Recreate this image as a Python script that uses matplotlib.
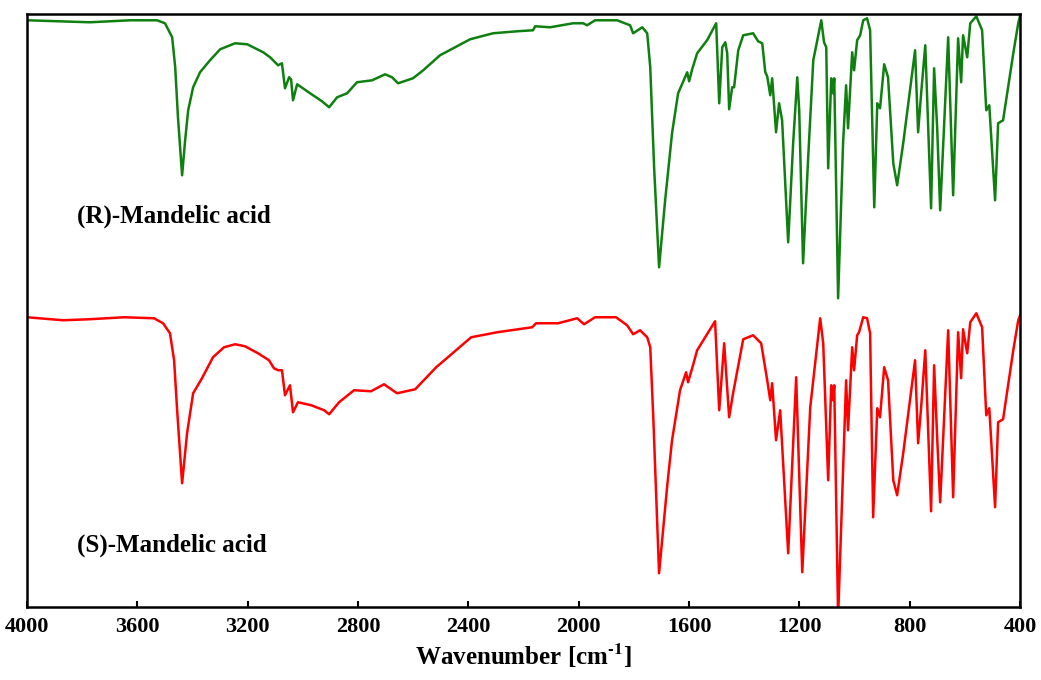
import matplotlib.pyplot as plt

plt.rcParams['font.family'] = ['Liberation Serif', 'DejaVu Serif']
plt.rcParams['font.weight'] = 'bold'
plt.rcParams['mathtext.fontset'] = 'stix'

# (R)-Mandelic acid, upper trace (wavenumber cm-1, transmittance a.u.)
wn_r = [4000, 3880, 3772, 3699, 3627, 3529, 3500, 3474, 3463, 3453, 3438, 3427, 3416, 3398, 3373,
        3337, 3300, 3246, 3202, 3144, 3119, 3090, 3076, 3065, 3050, 3043, 3036, 3021, 2974, 2931,
        2905, 2876, 2840, 2804, 2749, 2702, 2677, 2655, 2601, 2564, 2503, 2394, 2311, 2224, 2166,
        2158, 2104, 2021, 1984, 1970, 1941, 1861, 1814, 1803, 1770, 1752, 1741, 1727, 1709, 1687,
        1662, 1640, 1607, 1600, 1589, 1571, 1535, 1502, 1491, 1480, 1469, 1462, 1455, 1444, 1437,
        1422, 1404, 1386, 1368, 1350, 1335, 1324, 1317, 1306, 1299, 1285, 1274, 1263, 1241, 1223,
        1208, 1201, 1187, 1169, 1150, 1121, 1111, 1103, 1096, 1085, 1078, 1074, 1060, 1042, 1031,
        1024, 1009, 1002, 991, 980, 969, 955, 944, 929, 918, 908, 893, 879, 860, 846,
        824, 781, 770, 759, 744, 723, 712, 701, 690, 661, 643, 625, 614, 607, 592,
        581, 559, 538, 523, 512, 491, 480, 462, 425, 407, 400]
t_r = [587, 586, 585, 586, 587, 587, 584, 570, 540, 490, 432, 467, 497, 520, 535,
       547, 558, 564, 563, 555, 550, 542, 544, 519, 530, 528, 507, 523, 514, 506,
       500, 510, 514, 525, 527, 533, 530, 524, 529, 537, 552, 568, 574, 576, 577,
       581, 580, 584, 584, 582, 587, 587, 582, 574, 580, 574, 540, 440, 340, 407,
       474, 514, 535, 526, 538, 554, 567, 584, 504, 560, 565, 554, 498, 520, 520,
       557, 572, 573, 574, 566, 564, 535, 531, 512, 529, 475, 504, 487, 365, 464,
       530, 497, 344, 447, 547, 587, 565, 560, 439, 529, 514, 529, 309, 464, 522,
       479, 555, 537, 567, 572, 587, 589, 577, 400, 504, 499, 543, 530, 444, 422,
       464, 557, 475, 514, 562, 399, 539, 480, 397, 570, 412, 569, 525, 572, 550,
       584, 591, 577, 497, 502, 407, 484, 487, 554, 584, 592]

# (S)-Mandelic acid, lower trace
wn_s = [4000, 3869, 3775, 3648, 3540, 3507, 3482, 3467, 3456, 3438, 3420, 3398, 3366, 3326, 3286,
        3246, 3210, 3163, 3123, 3105, 3090, 3076, 3065, 3047, 3036, 3018, 2970, 2923, 2905, 2869,
        2815, 2753, 2706, 2659, 2593, 2517, 2390, 2296, 2169, 2155, 2075, 2006, 1981, 1941, 1865,
        1825, 1803, 1778, 1752, 1741, 1730, 1709, 1680, 1662, 1633, 1611, 1604, 1589, 1571, 1506,
        1491, 1473, 1455, 1440, 1404, 1368, 1339, 1317, 1306, 1299, 1285, 1270, 1241, 1212, 1190,
        1161, 1125, 1114, 1096, 1085, 1078, 1074, 1060, 1031, 1024, 1009, 1002, 991, 984, 969,
        955, 944, 933, 918, 908, 893, 879, 860, 846, 824, 781, 770, 759, 744, 723,
        712, 701, 690, 661, 643, 625, 614, 607, 592, 581, 559, 538, 523, 512, 491,
        480, 462, 425, 407, 400]
t_s = [290, 287, 288, 290, 289, 284, 274, 247, 197, 124, 174, 214, 229, 250, 260,
       263, 261, 254, 247, 239, 237, 237, 212, 222, 195, 205, 202, 197, 193, 205,
       217, 216, 223, 214, 218, 240, 270, 275, 280, 284, 284, 289, 283, 290, 290,
       282, 273, 277, 270, 260, 190, 34, 120, 167, 217, 235, 225, 239, 257, 286,
       197, 264, 190, 215, 268, 272, 264, 227, 207, 224, 167, 197, 54, 230, 35,
       200, 289, 264, 127, 222, 207, 222, -10, 227, 177, 260, 237, 272, 275, 290,
       289, 274, 90, 199, 190, 240, 227, 127, 112, 154, 247, 164, 200, 257, 96,
       242, 170, 105, 277, 110, 275, 229, 278, 254, 285, 294, 280, 192, 199, 100,
       185, 188, 257, 287, 292]

fig = plt.figure(figsize=(10.41, 6.8), dpi=100)
ax = fig.add_axes([0.026, 0.107, 0.954, 0.872])

ax.plot(wn_r, t_r, color='#0f800f', lw=1.8)
ax.plot(wn_s, t_s, color='#ff0000', lw=1.8)

ax.text(3819, 391, '(R)-Mandelic acid', fontsize=18, fontweight='bold', va='center', ha='left')
ax.text(3819, 62, '(S)-Mandelic acid', fontsize=18, fontweight='bold', va='center', ha='left')

ax.set_xlim(4000, 400)
ax.set_ylim(0, 593)
ax.set_xticks(range(4000, 399, -400))
ax.set_yticks([])
ax.tick_params(axis='x', direction='in', length=4, width=1.5, labelsize=16, pad=7)
for lab in ax.get_xticklabels():
    lab.set_fontweight('bold')
for sp in ax.spines.values():
    sp.set_linewidth(1.8)

ax.set_xlabel('Wavenumber [cm$^{\\mathbf{\u2010}\\mathbf{1}}$]', fontsize=18, fontweight='bold', labelpad=3)

fig.savefig('out.png', dpi=100)
